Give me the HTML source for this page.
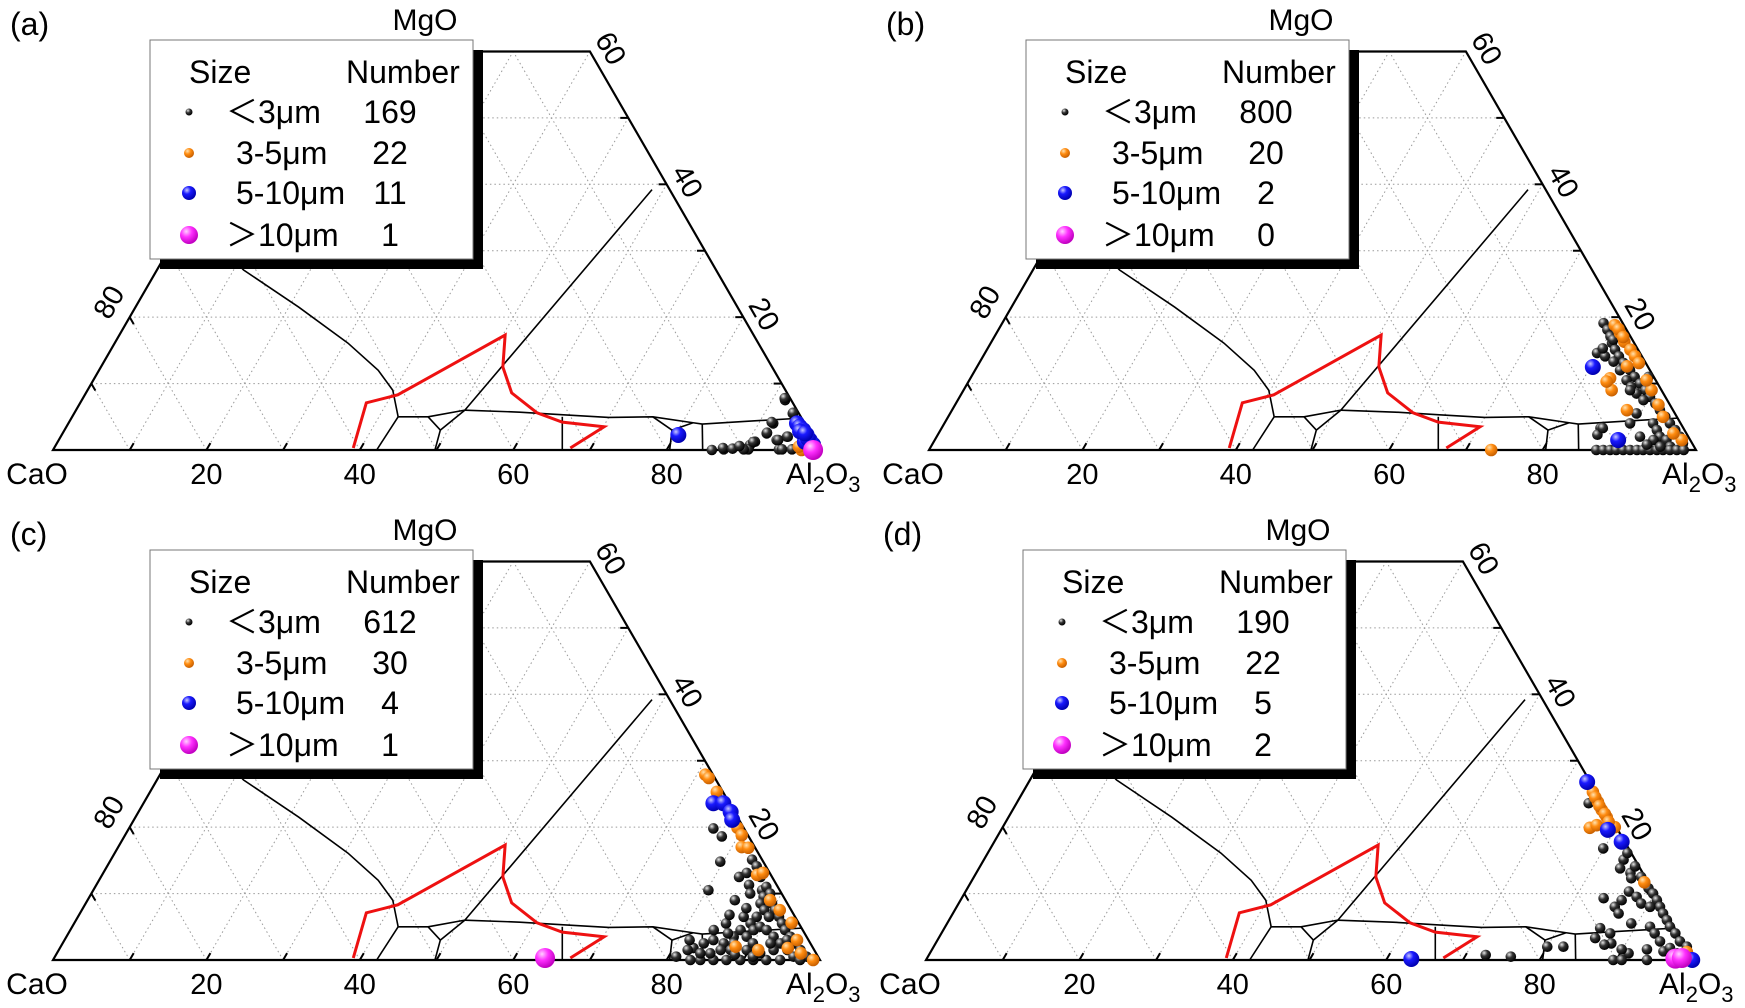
<!DOCTYPE html>
<html><head><meta charset="utf-8"><style>
html,body{margin:0;padding:0;background:#fff;}
svg{display:block;font-family:"Liberation Sans","Noto Sans CJK SC",sans-serif;}
</style></head><body>
<svg id="fig" width="1745" height="1008" viewBox="0 0 1745 1008" xmlns="http://www.w3.org/2000/svg">
<defs>
<radialGradient id="gk" cx="35%" cy="30%" r="70%"><stop offset="0" stop-color="#e8e8e8"/><stop offset="0.45" stop-color="#333"/><stop offset="1" stop-color="#000"/></radialGradient>
<radialGradient id="go" cx="35%" cy="30%" r="70%"><stop offset="0" stop-color="#ffe2b0"/><stop offset="0.45" stop-color="#ff8c10"/><stop offset="1" stop-color="#c86000"/></radialGradient>
<radialGradient id="gb" cx="35%" cy="30%" r="70%"><stop offset="0" stop-color="#c8c8ff"/><stop offset="0.4" stop-color="#1a1aff"/><stop offset="1" stop-color="#0000b0"/></radialGradient>
<radialGradient id="gm" cx="35%" cy="30%" r="70%"><stop offset="0" stop-color="#ffd0ff"/><stop offset="0.45" stop-color="#ff30ff"/><stop offset="1" stop-color="#c000c0"/></radialGradient>
</defs>
</svg>
<script>
// ---------- data: points as [Al2O3 %, MgO %] ----------
const panelLetters = ["(a)","(b)","(c)","(d)"];
const sizeClasses = ["<3μm","3-5μm","5-10μm",">10μm"];
const countsA = [169,22,11,1];
const countsB = [800,20,2,0];
const countsC = [612,30,4,1];
const countsD = [190,22,5,2];
const bottomTicks = [20,40,60,80];
const rightTicks = [20,40,60];
const leftTicks = [80];

const blackA = [[91.7,7.5],[93.7,5.5],[91.9,4],[91.8,2.5],[93.6,1.5],[94.7,2],[90.9,1.25],[90.5,0.75],[90.2,0.15],[90.6,0.1],[87.4,0.1],[94.6,0.1],[95,0.1],[96.3,0.1],[87.2,0.3],[90,0.1],[90.7,1.2],[91.6,4.2],[91.8,2.6],[93.8,1.5],[94.8,2],[91.5,7.8],[93.7,5.6],[85.9,0],[88.5,0.2],[89.2,0.6]];
const orangeA = [[97.6,0],[98.2,0.3],[97,0.5]];
const blueA = [[80.4,2.26],[95,4],[95.6,3.5],[96.3,3],[97.1,2.3],[97.9,1.5],[97.4,1.25],[98.7,0.8],[96,2.8],[97.5,1.8],[96.8,2.5]];
const magentaA = [[99.1,0]];

const blackB = [[78.4,19.1],[79.4,18.1],[80.3,17.1],[81,16.1],[81.9,15.1],[82.9,14.1],[84,13.1],[85.4,12],[86.5,11],[87.7,10],[88.9,9],[90,8],[91.2,7],[92.3,6],[93.5,5],[94.6,4],[95.8,3],[96.9,2],[97.8,1],[79.8,14.6],[81.1,14.1],[82.6,13.3],[84.1,12],[85.7,10.5],[86.8,9.5],[88,8.5],[86.9,9],[89.4,7.5],[88.3,11],[80.9,16.6],[80.2,15.3],[89.5,5.5],[89.4,4],[85.9,3.3],[86,2.3],[91.7,2],[92.4,4],[93.4,3],[94.3,2],[95.4,1.5],[96.4,0.5],[87,0],[87.9,0],[88.8,0],[89.6,0],[90.5,0],[91.4,0],[92.3,0],[93.1,0],[94,0],[94.9,0],[95.7,0],[96.6,0],[97.5,0],[98.4,0],[93.7,1.5],[93.2,0.8],[95.1,0.5],[86.2,3.3]];
const orangeB = [[80,18.8],[81.3,17.6],[82.5,16.3],[83.9,15.1],[85,14.1],[86,13.1],[84.7,12.6],[83.4,10.8],[84.5,9],[83.2,10.3],[88,6],[91.7,6.8],[97.4,1.5],[95.8,2.5],[89.7,9],[88.3,10.5],[93.2,5],[73.3,0],[80.8,18.2],[82,17]];
const blueB = [[80.3,12.5],[89.1,1.5]];
const magentaB = [];

const blackC = [[76.2,19.8],[77.9,18.6],[79.6,14.8],[83.2,12.5],[80.2,10.5],[84.4,9],[83.9,13.1],[85.1,11.3],[85.9,10],[83.6,15.1],[84.7,14.1],[86,12.5],[87.2,10.5],[87.9,9.5],[87.5,11],[88.5,10],[89.5,8.5],[90.4,7.5],[91.4,6.5],[92.3,5.5],[93.2,4.5],[94.4,3.5],[95.5,2.5],[96.7,1.5],[98,0.5],[88,8.5],[89,7.5],[90.1,6.5],[88.5,6.5],[88.2,5.5],[86.8,6.5],[87.4,4.5],[88.7,3.5],[89.1,4.5],[89.7,5],[90.8,4.5],[92.2,3.5],[93.6,2.5],[95,1.5],[96.3,0.5],[97.4,0],[94.8,0],[93,0],[91.3,0],[89.6,0],[87.8,0],[86.1,0],[84.4,0],[83.1,0],[82.6,1.8],[83.6,2.5],[84.6,3],[86.2,2.5],[87,3.5],[87.6,1.5],[86.3,1.5],[85.2,1],[89.7,1.5],[91.7,1],[93.2,1.5],[94.2,3],[92.3,2.5],[86.5,7.8],[87.5,2.5],[83.9,4.5],[83.9,1],[82,1.5],[81,0.5],[81.5,3],[85,5.5],[86,4],[90,2.5],[91,0.5],[88.5,0.8],[84.8,6.8]];
const orangeC = [[71.1,27.9],[71.8,27.4],[73.9,25.3],[79.3,19.9],[80.4,18.8],[81.3,17],[82.2,16.9],[85.4,12.8],[86,13.1],[93.5,5.6],[91.2,1.5],[94.9,1.8],[99.1,0],[89,9],[91,7.5],[95.5,3],[88,2],[97,1]];
const blueC = [[74.3,23.6],[75.6,23.6],[77.2,22.3],[78,21.1]];
const magentaC = [[64,0.3]];

const blackD = [[74.6,23.6],[79.9,16.8],[83.4,15.1],[83.6,13.8],[85.3,13.1],[85.8,12.3],[85.4,14.1],[83.4,16.1],[87,12.5],[88.8,10.8],[89.8,10],[90.8,9],[91.7,8],[92.6,7],[93.6,6],[94.5,5],[95.7,4],[96.9,2.8],[98.2,2],[83.7,9.3],[86.2,9],[86.5,10.3],[87.9,9.5],[89,8.5],[90.4,8],[85.8,8],[86.8,7],[89.2,5.5],[91.9,5],[93,4],[94.3,2.8],[95.5,1.3],[96.1,1.8],[97.4,1],[93.2,1.6],[91.1,1],[89.9,1.6],[89.6,0],[90.7,0],[94,0],[85.5,4.8],[87.2,4],[85.6,3.3],[88.1,2.5],[87.3,2.3],[82.1,2],[72.6,0.75],[76,0.5],[80,2]];
const orangeD = [[74.3,25.3],[75.7,23.8],[76.8,22.6],[78,21.5],[76.6,19.9],[77.3,20.3],[79.8,20],[87.8,11.7],[98.6,1.2],[75,24.5],[76.2,23.2],[77.5,22],[78.6,20.8]];
const blueD = [[72.8,26.8],[79.1,19.6],[81.8,17.8],[99.9,0],[63.2,0.15]];
const magentaD = [[97.6,0.2],[98.4,0.3]];

// phase-diagram boundaries [Al2O3, MgO]
const curveA = [[5.3,31.6],[11.3,27.1],[21.3,21.5],[30.4,16.1],[36.4,12],[39.8,9],[42.5,5]];
const segs = [
 [[42.5,5],[42.2,0]],
 [[42.5,5],[46.4,5]],
 [[46.4,5],[50.7,6]],
 [[46.4,5],[49,3]],
 [[49,3],[50.7,6]],
 [[49,3],[49.8,0]],
 [[50.7,6],[58.5,39.2]],
 [[63.9,5],[66.4,0]],
 [[75.7,5],[79.2,3]],
 [[79.2,3],[81.4,4.1]],
 [[79.2,3],[80.4,0]],
 [[82.7,3.9],[84.7,0]]
];
const curveB = [[50.7,6],[58,5.7],[63.9,5.3],[70,4.9],[75.7,5],[81.4,4.1],[82.7,3.9],[88,4.3],[95.2,4.8]];
const redRegion = [[39,0.3],[37.3,7.1],[40.8,8.3],[50.3,17.3],[52.4,12.5],[55.5,8.6],[60.3,5.6],[64.3,4.2],[70.1,3.5],[67.3,0.3]];

// ---------- drawing ----------
const NS = "http://www.w3.org/2000/svg";
const svg = document.getElementById("fig");
const W = 767, H = W*0.8660, BX = 53, BY = 450;
const offsets = [[0,0],[876,0],[0,510],[873,510]];
const panelData = [
 {counts:countsA, k:blackA, o:orangeA, b:blueA, m:magentaA},
 {counts:countsB, k:blackB, o:orangeB, b:blueB, m:magentaB},
 {counts:countsC, k:blackC, o:orangeC, b:blueC, m:magentaC},
 {counts:countsD, k:blackD, o:orangeD, b:blueD, m:magentaD}
];
function mk(tag, attrs, parent){
  const e = document.createElementNS(NS, tag);
  for (const k in attrs) e.setAttribute(k, attrs[k]);
  parent.appendChild(e);
  return e;
}
function xScale(a,m,ox){ return ox + BX + W*(a/100 + m/200); }
function yScale(m,oy){ return oy + BY - H*m/100; }

offsets.forEach((off, pi) => {
  const ox = off[0], oy = off[1];
  const pd = panelData[pi];
  const g = mk("g", {}, svg);
  
  
  const P = (a,m) => [xScale(a,m,ox), yScale(m,oy)];

  // grid
  const grid = mk("g", {stroke:"#9a9a9a","stroke-width":1,"stroke-dasharray":"1.5 3",fill:"none"}, g);
  
  
  for (let v=10; v<=90; v+=10){
    if (v < 60){ const p1=P(0,v), p2=P(100-v,v); mk("line",{x1:p1[0],y1:p1[1],x2:p2[0],y2:p2[1]},grid); }
    const mm = Math.min(100-v,60);
    let p1=P(v,0), p2=P(v,mm); mk("line",{x1:p1[0],y1:p1[1],x2:p2[0],y2:p2[1]},grid);
    const c=v, mm2=Math.min(100-c,60);
    p1=P(100-c,0); p2=P(100-c-mm2,mm2); mk("line",{x1:p1[0],y1:p1[1],x2:p2[0],y2:p2[1]},grid);
  }

  // phase boundaries
  const pl = pts => pts.map(p => P(p[0],p[1]).join(",")).join(" ");
  const cA = mk("polyline",{points:pl(curveA),fill:"none",stroke:"#000","stroke-width":1.6},g);
  
  
  const cB = mk("polyline",{points:pl(curveB),fill:"none",stroke:"#000","stroke-width":1.6},g);
  
  
  segs.forEach(s => {
    const l = mk("polyline",{points:pl(s),fill:"none",stroke:"#000","stroke-width":1.6},g);
    
    
  });
  const red = mk("polyline",{points:pl(redRegion),fill:"none",stroke:"#ee1111","stroke-width":3,"stroke-linejoin":"miter"},g);
  
  

  // axes
  const A0=P(0,0), A1=P(100,0), T1=P(40,60), T0=P(0,60);
  const ax = mk("polygon",{points:[A0,A1,T1,T0].map(p=>p.join(",")).join(" "),fill:"none",stroke:"#000","stroke-width":2.2},g);
  
  
  // ticks
  const tk = mk("g",{stroke:"#000","stroke-width":2},g);
  
  
  const L=8, c60=0.5, s60=0.866;
  for (let v=10; v<=90; v+=10){
    let p=P(v,0); mk("line",{x1:p[0],y1:p[1],x2:p[0]+L*c60,y2:p[1]-L*s60},tk);
    if (v<=60){
      p=P(100-v,v); mk("line",{x1:p[0],y1:p[1],x2:p[0]-L,y2:p[1]},tk);
      p=P(0,v); mk("line",{x1:p[0],y1:p[1],x2:p[0]+L*c60,y2:p[1]+L*s60},tk);
    }
  }
  // tick labels
  bottomTicks.forEach(v => {
    const p=P(v,0);
    const t=mk("text",{x:p[0],y:p[1]+34,"font-size":29,"text-anchor":"middle"},g);
    t.textContent=v;
    
    
  });
  rightTicks.forEach(v => {
    const p=P(100-v,v);
    const x=p[0]+19, y=p[1]-2;
    const t=mk("text",{x:x,y:y,"font-size":29,"text-anchor":"middle","dominant-baseline":"middle",transform:`rotate(60 ${x} ${y})`},g);
    t.textContent=v;
    
    
  });
  leftTicks.forEach(v => {
    const m=100-v; const p=P(0,m);
    const x=p[0]-19, y=p[1]-14;
    const t=mk("text",{x:x,y:y,"font-size":29,"text-anchor":"middle","dominant-baseline":"middle",transform:`rotate(-60 ${x} ${y})`},g);
    t.textContent=v;
    
    
  });
  // corner labels
  let t=mk("text",{x:ox+37,y:oy+484,"font-size":30,"text-anchor":"middle"},g);
  t.textContent="CaO";
  
  
  t=mk("text",{x:ox+786,y:oy+484,"font-size":30},g);
  t.innerHTML='Al<tspan font-size="22" dy="8">2</tspan><tspan dy="-8">O</tspan><tspan font-size="22" dy="8">3</tspan>';
  
  
  t=mk("text",{x:ox+425,y:oy+30,"font-size":30,"text-anchor":"middle"},g);
  t.textContent="MgO";
  
  
  t=mk("text",{x:ox+10,y:oy+35,"font-size":32},g);
  t.textContent=panelLetters[pi];
  
  

  // points
  const series = [[pd.k,"url(#gk)",5.3,"inclusions-lt3um"],[pd.o,"url(#go)",6.3,"inclusions-3-5um"],[pd.b,"url(#gb)",8,"inclusions-5-10um"],[pd.m,"url(#gm)",10,"inclusions-gt10um"]];
  series.forEach(s => {
    const sg = mk("g",{},g);
    
    
    s[0].forEach(pt => {
      const p=P(pt[0],pt[1]);
      const c=mk("circle",{cx:p[0],cy:p[1],r:s[2],fill:s[1]},sg);
      
      
    });
  });

  // legend
  const lg = mk("g",{},g);
  
  
  const lx=ox+150, ly=oy+40;
  mk("rect",{x:lx+10,y:ly+10,width:323,height:219,fill:"#000"},lg);
  mk("rect",{x:lx,y:ly,width:323,height:219,fill:"#fff",stroke:"#777","stroke-width":1},lg);
  t=mk("text",{x:lx+39,y:ly+43,"font-size":32},lg); t.textContent="Size";
   
  t=mk("text",{x:lx+196,y:ly+43,"font-size":32},lg); t.textContent="Number";
   
  const rowY=[72,113,153,195], mr=[3.5,5,7,9], fills=["url(#gk)","url(#go)","url(#gb)","url(#gm)"], lxs=[76,86,86,76];
  sizeClasses.forEach((sc,i) => {
    const e=mk("g",{},lg);
    
    
    mk("circle",{cx:lx+39,cy:ly+rowY[i],r:mr[i],fill:fills[i]},e);
    const tt=mk("text",{x:lx+lxs[i],y:ly+rowY[i]+11,"font-size":32},e);
    tt.textContent = sc.replace("<","＜").replace(">","＞");
    const nn=mk("text",{x:lx+240,y:ly+rowY[i]+11,"font-size":32,"text-anchor":"middle"},e);
    nn.textContent = pd.counts[i];
  });
});
</script>
</body></html>
